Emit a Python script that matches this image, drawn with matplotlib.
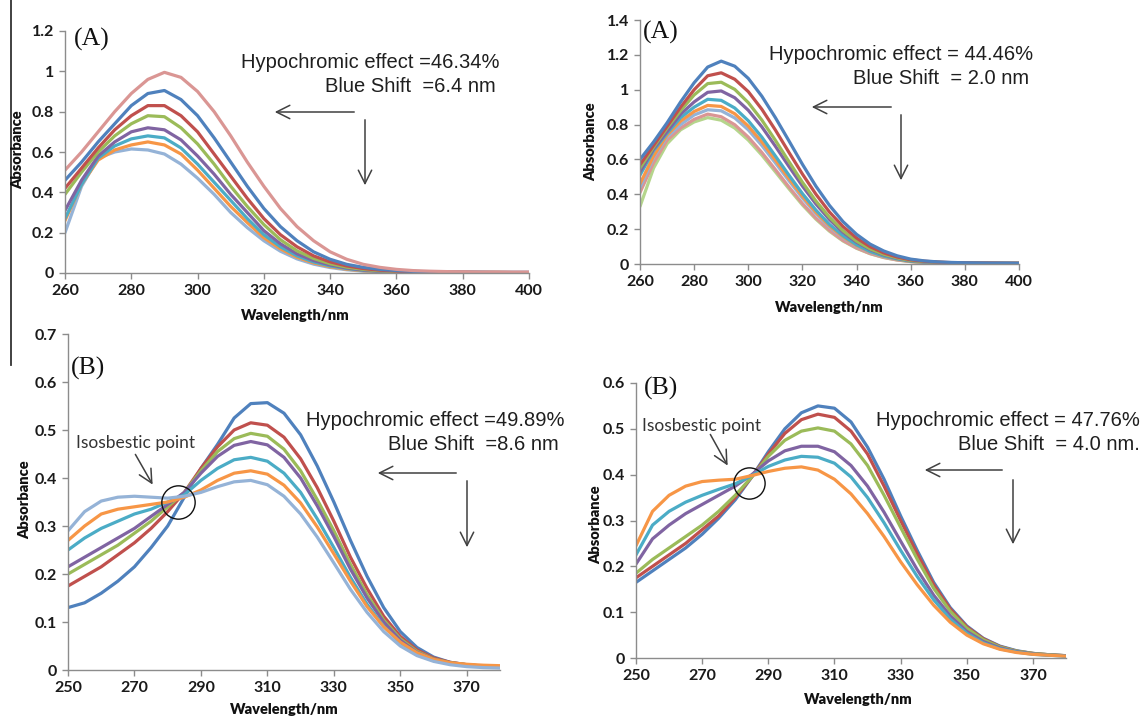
import matplotlib
matplotlib.use("Agg")
import matplotlib.pyplot as plt
from matplotlib.lines import Line2D

W, H = 1143, 718

# ---------------- data ----------------
# (A) left: wavelength grid and absorbance spectra
wl_a1 = [260, 265, 270, 275, 280, 285, 290, 295, 300, 305, 310, 315, 320, 325, 330,
         335, 340, 345, 350, 355, 360, 365, 370, 375, 380, 385, 390, 395, 400]
a1_pink = [0.51, 0.60, 0.70, 0.80, 0.89, 0.96, 0.995, 0.97, 0.90, 0.80, 0.68, 0.55, 0.43, 0.32, 0.23,
           0.16, 0.105, 0.068, 0.043, 0.028, 0.018, 0.012, 0.009, 0.007, 0.006, 0.005, 0.005, 0.004, 0.004]
a1_blue = [0.46, 0.55, 0.65, 0.74, 0.83, 0.89, 0.905, 0.86, 0.78, 0.67, 0.55, 0.43, 0.32, 0.23, 0.16,
           0.105, 0.068, 0.043, 0.028, 0.018, 0.012, 0.008, 0.006, 0.005, 0.004, 0.004, 0.003, 0.003, 0.003]
a1_red = [0.42, 0.52, 0.62, 0.71, 0.78, 0.83, 0.83, 0.78, 0.70, 0.59, 0.48, 0.37, 0.27, 0.19, 0.13,
          0.085, 0.055, 0.035, 0.022, 0.014, 0.009, 0.006, 0.005, 0.004, 0.004, 0.003, 0.003, 0.003, 0.003]
a1_green = [0.39, 0.50, 0.60, 0.68, 0.74, 0.78, 0.775, 0.72, 0.64, 0.54, 0.43, 0.33, 0.24, 0.165, 0.11,
            0.072, 0.046, 0.029, 0.018, 0.011, 0.007, 0.005, 0.004, 0.003, 0.003, 0.003, 0.003, 0.002, 0.002]
a1_purple = [0.31, 0.46, 0.58, 0.65, 0.70, 0.72, 0.71, 0.66, 0.58, 0.49, 0.39, 0.30, 0.21, 0.145, 0.095,
             0.062, 0.04, 0.025, 0.015, 0.009, 0.006, 0.004, 0.003, 0.003, 0.003, 0.002, 0.002, 0.002, 0.002]
a1_teal = [0.27, 0.44, 0.57, 0.63, 0.665, 0.68, 0.67, 0.62, 0.54, 0.45, 0.36, 0.27, 0.19, 0.13, 0.085,
           0.055, 0.035, 0.022, 0.013, 0.008, 0.005, 0.004, 0.003, 0.003, 0.002, 0.002, 0.002, 0.002, 0.002]
a1_orange = [0.26, 0.44, 0.56, 0.61, 0.635, 0.65, 0.635, 0.59, 0.51, 0.42, 0.33, 0.25, 0.175, 0.12, 0.078,
             0.05, 0.031, 0.019, 0.011, 0.007, 0.004, 0.003, 0.003, 0.002, 0.002, 0.002, 0.002, 0.002, 0.002]
a1_ltblue = [0.20, 0.43, 0.57, 0.60, 0.615, 0.61, 0.59, 0.54, 0.47, 0.39, 0.30, 0.225, 0.16, 0.108, 0.07,
             0.044, 0.027, 0.016, 0.009, 0.005, 0.003, 0.002, 0.002, 0.002, 0.002, 0.002, 0.002, 0.002, 0.002]

# (A) right
wl_a2 = wl_a1
a2_blue = [0.60, 0.70, 0.81, 0.93, 1.04, 1.13, 1.164, 1.135, 1.065, 0.963, 0.840, 0.707, 0.572, 0.446, 0.336,
           0.243, 0.170, 0.114, 0.075, 0.047, 0.028, 0.018, 0.012, 0.009, 0.007, 0.006, 0.005, 0.005, 0.004]
a2_red = [0.57, 0.68, 0.79, 0.90, 1.00, 1.08, 1.097, 1.06, 0.989, 0.888, 0.769, 0.641, 0.516, 0.40, 0.298,
          0.215, 0.149, 0.099, 0.064, 0.040, 0.024, 0.016, 0.011, 0.008, 0.006, 0.005, 0.005, 0.004, 0.004]
a2_green = [0.55, 0.67, 0.78, 0.88, 0.97, 1.035, 1.043, 1.002, 0.926, 0.826, 0.710, 0.588, 0.469, 0.361, 0.268,
            0.191, 0.131, 0.087, 0.056, 0.035, 0.020, 0.014, 0.010, 0.007, 0.006, 0.005, 0.004, 0.004, 0.004]
a2_purple = [0.53, 0.66, 0.76, 0.86, 0.93, 0.985, 0.993, 0.954, 0.882, 0.787, 0.676, 0.56, 0.447, 0.344, 0.255,
             0.182, 0.125, 0.083, 0.053, 0.033, 0.019, 0.013, 0.009, 0.007, 0.005, 0.005, 0.004, 0.004, 0.004]
a2_teal = [0.51, 0.65, 0.75, 0.84, 0.90, 0.945, 0.939, 0.895, 0.822, 0.728, 0.62, 0.51, 0.404, 0.309, 0.227,
           0.162, 0.11, 0.072, 0.046, 0.029, 0.016, 0.011, 0.008, 0.006, 0.005, 0.004, 0.004, 0.004, 0.003]
a2_orange = [0.46, 0.62, 0.74, 0.82, 0.875, 0.91, 0.904, 0.862, 0.791, 0.701, 0.597, 0.491, 0.389, 0.297, 0.219,
             0.156, 0.106, 0.070, 0.044, 0.027, 0.015, 0.010, 0.007, 0.006, 0.005, 0.004, 0.004, 0.003, 0.003]
a2_ltblue = [0.44, 0.61, 0.73, 0.80, 0.855, 0.885, 0.879, 0.838, 0.77, 0.68, 0.58, 0.478, 0.378, 0.289, 0.213,
             0.151, 0.103, 0.067, 0.042, 0.026, 0.015, 0.010, 0.007, 0.005, 0.004, 0.004, 0.003, 0.003, 0.003]
a2_pink = [0.41, 0.58, 0.71, 0.78, 0.83, 0.86, 0.845, 0.799, 0.728, 0.64, 0.542, 0.442, 0.347, 0.263, 0.193,
           0.135, 0.092, 0.060, 0.038, 0.023, 0.014, 0.009, 0.006, 0.005, 0.004, 0.003, 0.003, 0.003, 0.003]
a2_ltgreen = [0.33, 0.55, 0.69, 0.77, 0.815, 0.84, 0.825, 0.78, 0.711, 0.625, 0.529, 0.432, 0.339, 0.257, 0.188,
              0.132, 0.09, 0.059, 0.037, 0.023, 0.014, 0.009, 0.006, 0.005, 0.004, 0.003, 0.003, 0.003, 0.003]

# (B) left
wl_b = [250, 255, 260, 265, 270, 275, 280, 285, 290, 295, 300, 305, 310, 315, 320,
        325, 330, 335, 340, 345, 350, 355, 360, 365, 370, 375, 380]
b1_blue = [0.13, 0.14, 0.16, 0.185, 0.215, 0.255, 0.30, 0.36, 0.42, 0.47, 0.525, 0.555, 0.557, 0.535, 0.49,
           0.425, 0.35, 0.27, 0.195, 0.13, 0.08, 0.047, 0.027, 0.016, 0.011, 0.008, 0.007]
b1_red = [0.175, 0.195, 0.215, 0.24, 0.265, 0.295, 0.33, 0.37, 0.42, 0.465, 0.50, 0.515, 0.51, 0.485, 0.44,
          0.38, 0.31, 0.235, 0.17, 0.112, 0.07, 0.042, 0.025, 0.016, 0.011, 0.008, 0.007]
b1_green = [0.20, 0.22, 0.24, 0.26, 0.285, 0.31, 0.34, 0.37, 0.415, 0.455, 0.482, 0.493, 0.487, 0.46, 0.415,
            0.355, 0.29, 0.22, 0.157, 0.104, 0.065, 0.039, 0.023, 0.015, 0.011, 0.008, 0.007]
b1_purple = [0.215, 0.235, 0.255, 0.275, 0.295, 0.32, 0.345, 0.37, 0.41, 0.445, 0.468, 0.476, 0.469, 0.443, 0.40,
             0.342, 0.278, 0.21, 0.15, 0.10, 0.062, 0.037, 0.022, 0.014, 0.01, 0.008, 0.007]
b1_teal = [0.25, 0.275, 0.295, 0.31, 0.325, 0.335, 0.35, 0.365, 0.395, 0.42, 0.438, 0.443, 0.435, 0.41, 0.37,
           0.315, 0.255, 0.193, 0.137, 0.091, 0.057, 0.034, 0.02, 0.013, 0.01, 0.008, 0.007]
b1_orange = [0.27, 0.30, 0.325, 0.335, 0.34, 0.345, 0.35, 0.36, 0.375, 0.395, 0.41, 0.415, 0.408, 0.385, 0.348,
             0.298, 0.242, 0.185, 0.132, 0.09, 0.058, 0.036, 0.022, 0.015, 0.012, 0.01, 0.009]
b1_ltblue = [0.29, 0.33, 0.352, 0.36, 0.362, 0.36, 0.358, 0.362, 0.37, 0.382, 0.392, 0.395, 0.386, 0.362, 0.325,
             0.277, 0.223, 0.168, 0.12, 0.08, 0.05, 0.03, 0.018, 0.011, 0.007, 0.005, 0.004]

# (B) right
b2_blue = [0.165, 0.19, 0.215, 0.24, 0.27, 0.305, 0.345, 0.395, 0.45, 0.50, 0.535, 0.55, 0.545, 0.515, 0.46,
           0.39, 0.31, 0.235, 0.165, 0.11, 0.07, 0.043, 0.026, 0.016, 0.01, 0.007, 0.005]
b2_red = [0.175, 0.20, 0.225, 0.25, 0.28, 0.31, 0.35, 0.395, 0.445, 0.49, 0.52, 0.532, 0.525, 0.495, 0.445,
          0.375, 0.30, 0.228, 0.16, 0.107, 0.068, 0.042, 0.025, 0.015, 0.01, 0.007, 0.005]
b2_green = [0.185, 0.215, 0.24, 0.265, 0.29, 0.32, 0.355, 0.395, 0.44, 0.475, 0.495, 0.502, 0.495, 0.467, 0.42,
            0.355, 0.285, 0.216, 0.152, 0.102, 0.065, 0.04, 0.024, 0.015, 0.01, 0.007, 0.005]
b2_purple = [0.205, 0.26, 0.29, 0.315, 0.335, 0.355, 0.375, 0.40, 0.43, 0.452, 0.462, 0.462, 0.45, 0.42, 0.375,
             0.318, 0.255, 0.193, 0.137, 0.092, 0.058, 0.036, 0.022, 0.014, 0.009, 0.006, 0.005]
b2_teal = [0.225, 0.29, 0.32, 0.34, 0.355, 0.368, 0.38, 0.398, 0.418, 0.432, 0.44, 0.438, 0.425, 0.395, 0.35,
           0.295, 0.235, 0.178, 0.127, 0.085, 0.054, 0.033, 0.02, 0.013, 0.008, 0.006, 0.004]
b2_orange = [0.245, 0.32, 0.355, 0.375, 0.385, 0.388, 0.39, 0.398, 0.407, 0.414, 0.417, 0.41, 0.39, 0.358, 0.315,
             0.265, 0.21, 0.16, 0.115, 0.078, 0.05, 0.031, 0.019, 0.012, 0.008, 0.006, 0.004]

# isosbestic points (wavelength, absorbance)
iso_b1 = (283.2, 0.350)
iso_b2 = (284.2, 0.382)

# tick settings
xt_a = [260, 280, 300, 320, 340, 360, 380, 400]
yt_a1 = [0, 0.2, 0.4, 0.6, 0.8, 1, 1.2]
yt_a2 = [0, 0.2, 0.4, 0.6, 0.8, 1, 1.2, 1.4]
xt_b = [250, 270, 290, 310, 330, 350, 370]
yt_b1 = [0, 0.1, 0.2, 0.3, 0.4, 0.5, 0.6, 0.7]
yt_b2 = [0, 0.1, 0.2, 0.3, 0.4, 0.5, 0.6]

# ---------------- styling ----------------
C_BLUE = "#4F81BD"
C_RED = "#C0504D"
C_GREEN = "#9BBB59"
C_PURPLE = "#8064A2"
C_TEAL = "#4BACC6"
C_ORANGE = "#F79646"
C_LTBLUE = "#95B3D7"
C_PINK = "#DA9694"
C_LTGREEN = "#B5D58C"

TICK_FONT = dict(family="Lato", weight="bold", size=11.5)
LABEL_FONT = dict(family="Lato", weight="heavy", size=10.5)
NOTE_FONT = dict(family="Liberation Sans", size=14.5)
PANEL_FONT = dict(family="Liberation Serif", size=18.5)
LW = 2.3
SPINE = "#8C8C8C"
ARROW = "#404040"

fig = plt.figure(figsize=(W / 100, H / 100), dpi=100)
fig.patch.set_facecolor("white")


def make_axes(left, right, top, bottom):
    return fig.add_axes([left / W, 1 - bottom / H, (right - left) / W, (bottom - top) / H])


def style(ax, xlim, ylim, xt, yt):
    ax.set_xlim(*xlim)
    ax.set_ylim(*ylim)
    ax.set_xticks(xt)
    ax.set_yticks(yt)
    ax.set_yticklabels([("%g" % v) for v in yt])
    ax.set_xticklabels([str(v) for v in xt])
    for s in ("top", "right"):
        ax.spines[s].set_visible(False)
    for s in ("left", "bottom"):
        ax.spines[s].set_color(SPINE)
        ax.spines[s].set_linewidth(1.0)
    ax.tick_params(direction="out", length=4, width=1, color=SPINE, pad=4)
    for lab in ax.get_xticklabels() + ax.get_yticklabels():
        lab.set_fontfamily(TICK_FONT["family"])
        lab.set_fontweight(TICK_FONT["weight"])
        lab.set_fontsize(TICK_FONT["size"])
        lab.set_color("#1a1a1a")
    ax.patch.set_alpha(0)


def ftext(x, y, s, **kw):
    fig.text(x / W, 1 - y / H, s, **kw)


def farrow(x0, y0, x1, y1):
    fig.add_artist(matplotlib.patches.FancyArrowPatch(
        (x0 / W, 1 - y0 / H), (x1 / W, 1 - y1 / H), transform=fig.transFigure,
        arrowstyle="->,head_length=6,head_width=3", mutation_scale=1.6,
        color=ARROW, lw=1.1))


# ---- panel (A) left ----
ax1 = make_axes(65, 529, 31, 273)
for ys, c in [(a1_ltblue, C_LTBLUE), (a1_orange, C_ORANGE), (a1_teal, C_TEAL), (a1_purple, C_PURPLE),
              (a1_green, C_GREEN), (a1_red, C_RED), (a1_blue, C_BLUE), (a1_pink, C_PINK)]:
    ax1.plot(wl_a1, ys, color=c, lw=LW, solid_joinstyle="round", solid_capstyle="round")
style(ax1, (260, 400), (0, 1.2), xt_a, yt_a1)

# ---- panel (A) right ----
ax2 = make_axes(640, 1019, 20, 264)
for ys, c in [(a2_ltgreen, C_LTGREEN), (a2_pink, C_PINK), (a2_ltblue, C_LTBLUE), (a2_orange, C_ORANGE),
              (a2_teal, C_TEAL), (a2_purple, C_PURPLE), (a2_green, C_GREEN), (a2_red, C_RED),
              (a2_blue, C_BLUE)]:
    ax2.plot(wl_a2, ys, color=c, lw=LW, solid_joinstyle="round", solid_capstyle="round")
style(ax2, (260, 400), (0, 1.4), xt_a, yt_a2)

# ---- panel (B) left ----
ax3 = make_axes(68, 500, 334, 670)
for ys, c in [(b1_blue, C_BLUE), (b1_red, C_RED), (b1_green, C_GREEN), (b1_purple, C_PURPLE),
              (b1_teal, C_TEAL), (b1_orange, C_ORANGE), (b1_ltblue, C_LTBLUE)]:
    ax3.plot(wl_b, ys, color=c, lw=LW, solid_joinstyle="round", solid_capstyle="round")
ax3.plot([iso_b1[0]], [iso_b1[1]], marker="o", ms=24, mfc="none", mec="#111111", mew=1.0)
style(ax3, (250, 380), (0, 0.7), xt_b, yt_b1)

# ---- panel (B) right ----
ax4 = make_axes(636, 1066, 383, 658)
for ys, c in [(b2_blue, C_BLUE), (b2_red, C_RED), (b2_green, C_GREEN), (b2_purple, C_PURPLE),
              (b2_teal, C_TEAL), (b2_orange, C_ORANGE)]:
    ax4.plot(wl_b, ys, color=c, lw=LW, solid_joinstyle="round", solid_capstyle="round")
ax4.plot([iso_b2[0]], [iso_b2[1]], marker="o", ms=22.5, mfc="none", mec="#111111", mew=1.0)
style(ax4, (250, 380), (0, 0.6), xt_b, yt_b2)

# axis titles
for (x, y) in [(295, 315), (829, 307), (284, 709), (858, 699)]:
    ftext(x, y, "Wavelength/nm", ha="center", va="center", color="#111111", **LABEL_FONT)
for (x, y) in [(18, 150), (591, 142), (25, 500), (596, 525)]:
    ftext(x, y, "Absorbance", ha="center", va="center", rotation=90, color="#111111", **LABEL_FONT)

# panel letters
for (x, y, s) in [(74, 39, "(A)"), (643, 32, "(A)"), (71, 368, "(B)"), (644, 388, "(B)")]:
    ftext(x, y, s, ha="left", va="center", color="#111111", **PANEL_FONT)

# effect notes
notes = [
    (370, 63, "Hypochromic effect =46.34%"), (410, 86, "Blue Shift  =6.4 nm"),
    (901, 54, "Hypochromic effect = 44.46%"), (941, 78, "Blue Shift  = 2.0 nm"),
    (435, 421, "Hypochromic effect =49.89%"), (473, 444, "Blue Shift  =8.6 nm"),
    (1008, 421, "Hypochromic effect = 47.76%"), (1049, 444, "Blue Shift  = 4.0 nm."),
]
for x, y, s in notes:
    ftext(x, y, s, ha="center", va="center", color="#1f1f1f", **NOTE_FONT)

for (x, y) in [(135, 443), (702, 426)]:
    ftext(x, y, "Isosbestic point", ha="center", va="center", color="#333333",
          family="Lato", size=12.5)

# arrows
for (x0, y0, x1, y1) in [(357, 112, 272, 112), (365, 117, 365, 188),
                         (894, 107, 809, 107), (901, 112, 901, 183),
                         (459, 473, 375, 473), (467, 478, 467, 550),
                         (1005, 470, 922, 470), (1013, 477, 1013, 547),
                         (134, 452, 154, 487), (709, 432, 729, 468)]:
    farrow(x0, y0, x1, y1)

# thin separator rule on the left edge
fig.add_artist(Line2D([11 / W, 11 / W], [1, 1 - 365 / H], transform=fig.transFigure,
                      color="#333333", lw=1.3))

fig.savefig("out.png", dpi=100, facecolor="white")
